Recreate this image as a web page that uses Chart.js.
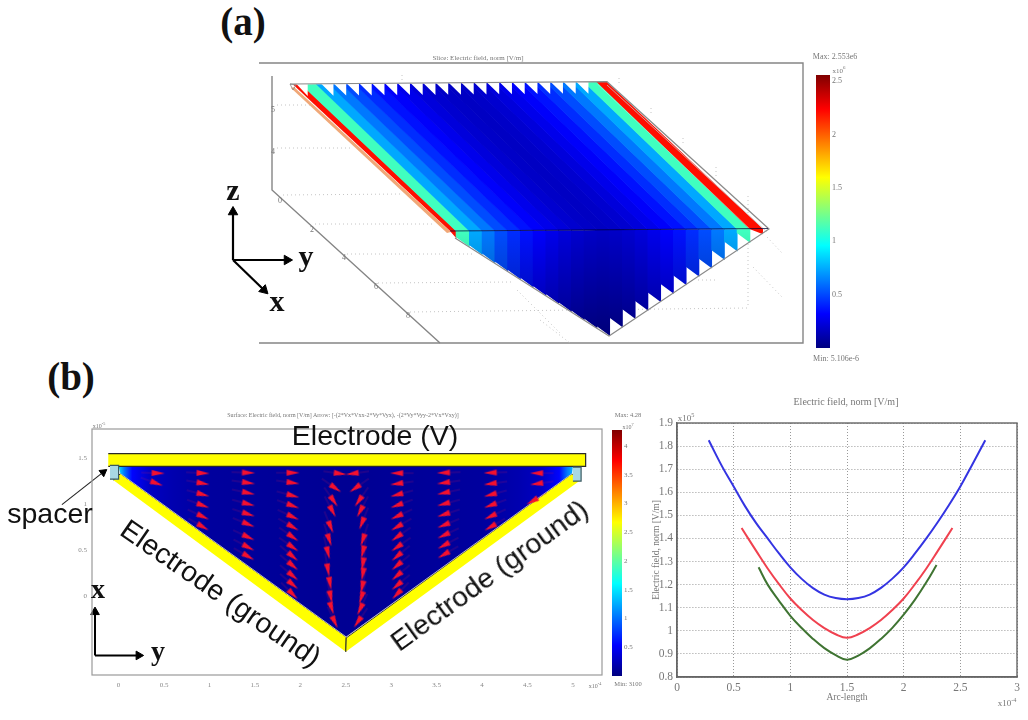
<!DOCTYPE html>
<html>
<head>
<meta charset="utf-8">
<script src="https://cdn.jsdelivr.net/npm/chart.js@4"></script>
<style>
html,body{margin:0;padding:0;background:#fff;}
#stage{position:relative;width:1028px;height:720px;overflow:hidden;background:#fff;filter:blur(0.5px);}
canvas{position:absolute;}
.t{position:absolute;white-space:nowrap;line-height:1;transform:translate(-50%,-50%);}
.sm{font-family:"Liberation Serif",serif;color:#777;}
.big{font-family:"Liberation Serif",serif;font-weight:bold;color:#111;}
.el{font-family:"Liberation Sans",sans-serif;color:#111;font-size:28.5px;}
sup{font-size:70%;line-height:0;}
</style>
</head>
<body>
<div id="stage"></div>
<script>
/* ---------- panel (b), right: line profiles ---------- */
const arcTicks = [0, 0.5, 1, 1.5, 2, 2.5, 3];
const fieldTicks = [0.8, 0.9, 1, 1.1, 1.2, 1.3, 1.4, 1.5, 1.6, 1.7, 1.8, 1.9];
const blueArc = [0.28,0.4,0.5,0.6,0.7,0.8,0.9,1,1.1,1.2,1.3,1.4,1.5,1.6,1.7,1.8,1.9,2,2.1,2.2,2.3,2.4,2.5,2.6,2.72];
const blueField = [1.825,1.71,1.625,1.54,1.465,1.4,1.335,1.275,1.225,1.185,1.157,1.142,1.137,1.142,1.157,1.186,1.226,1.275,1.335,1.4,1.47,1.545,1.625,1.715,1.825];
const redArc = [0.57,0.7,0.8,0.9,1,1.1,1.2,1.3,1.4,1.5,1.6,1.7,1.8,1.9,2,2.1,2.2,2.3,2.43];
const redField = [1.445,1.345,1.27,1.202,1.14,1.09,1.047,1.012,0.985,0.97,0.985,1.012,1.047,1.09,1.14,1.202,1.27,1.345,1.445];
const greenArc = [0.72,0.8,0.9,1,1.1,1.2,1.3,1.4,1.5,1.6,1.7,1.8,1.9,2,2.1,2.2,2.29];
const greenField = [1.275,1.2,1.13,1.065,1.012,0.965,0.925,0.895,0.875,0.893,0.924,0.965,1.013,1.07,1.135,1.21,1.285];

/* ---------- panel (a): field norm (x10^6 V/m) of each slice band, left to right ---------- */
const sliceNorm = [2.2,1.117,0.74,0.62,0.51,0.43,0.36,0.31,0.27,0.23,0.2,0.18,0.17,0.18,0.2,0.23,0.27,0.31,0.36,0.43,0.51,0.62,0.74,1.117,2.2];
const sliceBarTicks = [0.5, 1, 1.5, 2, 2.5];
const surfBarTicks = [0.5, 1, 1.5, 2, 2.5, 3, 3.5, 4];

/* ---------- panel (b), left: surface + arrows, axes in 1e-4 / 1e-5 units ---------- */
const surfYTicks = [0, 0.5, 1, 1.5, 2, 2.5, 3, 3.5, 4, 4.5, 5];
const surfXTicks = [0, 0.5, 1, 1.5];
const fieldStopY = [0, 0.06, 0.15, 0.35, 0.6, 1, 2.5, 4, 4.4, 4.65, 4.85, 4.94, 5.05];
const fieldStopNorm = [1.5, 1.05, 0.55, 0.28, 0.2, 0.13, 0.08, 0.13, 0.2, 0.28, 0.55, 1.05, 1.5];
const arrowY = [0.436,0.42,
 0.93,0.93,0.93,0.93,0.93,0.93,
 1.43,1.43,1.43,1.43,1.43,1.43,1.43,1.43,1.43,
 1.92,1.92,1.92,1.92,1.92,1.92,1.92,1.92,1.92,1.92,1.92,1.92,1.92,
 2.44,2.39,2.37,2.356,2.335,2.32,2.305,2.305,2.327,2.335,2.345,2.38,
 2.57,2.6,2.64,2.657,2.676,2.687,2.687,2.687,2.687,2.68,2.67,2.657,2.63,
 3.06,3.06,3.06,3.06,3.06,3.06,3.06,3.06,3.06,3.06,3.06,3.06,3.06,
 3.575,3.575,3.575,3.575,3.575,3.575,3.575,3.575,3.575,
 4.09,4.09,4.09,4.09,4.09,4.09,
 4.6,4.6,4.55];
const arrowX = [1.335,1.224,
 1.335,1.224,1.103,0.984,0.863,0.752,
 1.34,1.23,1.12,1.0,0.89,0.78,0.64,0.53,0.43,
 1.34,1.23,1.09,0.98,0.86,0.75,0.64,0.53,0.43,0.33,0.22,0.125,0.02,
 1.33,1.17,1.03,0.92,0.75,0.61,0.47,0.285,0.14,-0.007,-0.13,-0.28,
 1.33,1.17,1.03,0.92,0.79,0.61,0.48,0.35,0.24,0.1,-0.015,-0.14,-0.28,
 1.335,1.22,1.10,0.985,0.865,0.75,0.64,0.53,0.43,0.33,0.22,0.115,0.02,
 1.34,1.23,1.12,1.0,0.885,0.77,0.66,0.55,0.45,
 1.34,1.22,1.10,0.985,0.865,0.75,
 1.335,1.22,1.03];
const arrowAngle = [2,20,
 3,10,15,20,25,30,
 2,8,12,15,18,22,25,28,30,
 0,8,15,20,25,30,35,35,40,40,40,40,45,
 8,35,55,62,68,72,76,80,80,78,72,65,
 172,145,125,118,112,108,104,100,100,102,108,115,125,
 180,172,165,160,155,150,145,145,140,140,140,140,135,
 178,172,168,165,162,158,155,152,150,
 178,172,165,160,155,150,
 180,172,150];

/* ---------- helpers ---------- */
Chart.defaults.animation = false;
Chart.defaults.responsive = false;
Chart.defaults.maintainAspectRatio = false;
Chart.defaults.plugins.legend.display = false;
Chart.defaults.plugins.tooltip.enabled = false;
Chart.defaults.layout.autoPadding = false;

const stage = document.getElementById('stage');
function pane(left, top, w, h) {
  const c = document.createElement('canvas');
  c.width = w; c.height = h;
  c.style.cssText = 'left:' + left + 'px;top:' + top + 'px;width:' + w + 'px;height:' + h + 'px;';
  stage.appendChild(c);
  return c;
}
function label(html, x, y, size, cls, rot) {
  const d = document.createElement('div');
  d.className = 't ' + cls;
  d.innerHTML = html;
  d.style.left = x + 'px';
  d.style.top = y + 'px';
  if (size) d.style.fontSize = size + 'px';
  if (rot) d.style.transform = 'translate(-50%,-50%) rotate(' + rot + 'deg)';
  stage.appendChild(d);
}
function jetRGB(t) {
  t = Math.max(0, Math.min(1, t));
  const f = (a) => Math.max(0, Math.min(1, 1.5 - Math.abs(4 * t - a)));
  return [f(3), f(2), f(1)].map(v => Math.round(v * 255));
}
const css = (c) => 'rgb(' + c.join(',') + ')';
const jet = (t) => css(jetRGB(t));
function poly(points, color, extra) {
  return Object.assign({
    data: points.map(p => ({x: p[0], y: p[1]})),
    showLine: true, fill: 'shape', backgroundColor: color, borderColor: color,
    borderWidth: 0, pointRadius: 0, tension: 0
  }, extra || {});
}
function stroke(points, color, width, dash, extra) {
  return Object.assign({
    data: points.map(p => ({x: p[0], y: p[1]})),
    showLine: true, fill: false, borderColor: color, borderWidth: width,
    borderDash: dash || [], pointRadius: 0, tension: 0
  }, extra || {});
}
function head(p, angle, color, r) {
  return {data: [{x: p[0], y: p[1]}], showLine: false, pointStyle: 'triangle', pointRadius: r,
    pointRotation: angle, pointBackgroundColor: color, pointBorderColor: color, clip: false};
}
const framePlugin = (color, width) => ({
  id: 'frame',
  afterDraw(chart) {
    const a = chart.chartArea, c = chart.ctx;
    c.save(); c.strokeStyle = color; c.lineWidth = width;
    c.strokeRect(a.left, a.top, a.right - a.left, a.bottom - a.top);
    c.restore();
  }
});
/* painter's order: last in the list ends up on top */
const painter = (list) => list.slice().reverse();

/* ---------- panel (a) ---------- */
(function () {
  const L = 225, T = 50, W = 590, H = 320;
  const ds = [];
  const GREY = '#858585', DOT = '#c4c4c4';
  const edges = [450, 455.7];
  for (let j = 0; j <= 22; j++) edges.push(469 + 12.75 * j);
  edges.push(763);
  const topEdges = edges.map(e => e - 153);
  topEdges[0] = 293; topEdges[1] = 301; topEdges[2] = 316; topEdges[topEdges.length - 1] = 607;
  const topY = (x) => 84.5 - (x - 295) * 0.008;
  const midY = (x) => 231 - (x - 450) * 0.0065;
  const rim = (x) => x < 609.25 ? 238 + 0.638 * (x - 455) : 336 - 0.6625 * (x - 609.25);

  /* box */
  ds.push(stroke([[259,63],[803,63],[803,343],[259,343]], GREY, 1.4));
  ds.push(stroke([[272,76],[272,190],[440,343]], GREY, 1.4));
  [[[277,105],[312,105]],[[277,148],[352,148]],[[283,195],[402,194]],[[315,224],[435,224]],
   [[347,254],[472,254]],[[378,283],[513,282]],[[410,312],[748,308]],[[748,196],[748,308]],
   [[698,280],[717,280]],[[402,75],[402,84]],[[619,78],[619,86]],[[651,108],[651,116]],
   [[683,138],[683,146]],[[716,167],[716,176]],[[767,237],[782,253]],[[753,267],[782,297]],
   [[517,290],[560,333]],[[540,320],[570,343]]
  ].forEach(s => ds.push(stroke(s, DOT, 1, [1, 3])));

  /* bands above and below the fold; each slightly overlaps the next to avoid seams */
  sliceNorm.forEach((v, i) => {
    const a = edges[i], b = edges[i + 1], c = jetRGB(v / 2.553), o = i < sliceNorm.length - 1 ? 0.8 : 0;
    const ta = topEdges[i], tb = topEdges[i + 1];
    ds.push(poly([[ta, topY(ta)], [tb + o, topY(tb)], [b + o, midY(b)], [a, midY(a)]], css(c)));
    const tooth = Math.max(rim(b) - 10, midY(a));
    ds.push(poly([[a, midY(a)], [b + o, midY(b)], [b + o, rim(b)], [a, tooth]], css(c), {
      backgroundColor(ctx) {
        const s = ctx.chart.scales.y;
        const y0 = s ? s.getPixelForValue(231) : NaN, y1 = s ? s.getPixelForValue(336) : NaN;
        if (!Number.isFinite(y0) || !Number.isFinite(y1)) return css(c);
        const g = ctx.chart.ctx.createLinearGradient(0, y0, 0, y1);
        g.addColorStop(0, css(c));
        g.addColorStop(1, css(c.map(n => Math.round(n * 0.62))));
        return g;
      }
    }));
  });
  ds.push(poly([[291,88],[294,87],[451,232],[447,233]], '#f0a878'));

  /* white teeth on the top edge */
  const toothStart = [296, 320.7];
  for (let j = 1; j <= 20; j++) toothStart.push(320.7 + 12.75 * j);
  toothStart.forEach((x, i) => {
    const e = i === 0 ? 307.7 : x + 12.75;
    ds.push(poly([[x, topY(x) - 1], [e, topY(e) - 1], [e, topY(e) + 11.5]], '#fff'));
  });
  ds.push(stroke([[597.5,84],[750,229]], 'rgba(255,255,255,0.4)', 0.8));

  /* outlines */
  ds.push(stroke([[290,84],[607,81.7],[769,229],[609,336],[455,238]], '#8a8a8a', 1.2));
  ds.push(stroke([[607,85],[767,232]], '#c4c4c4', 0.8));
  ds.push(stroke([[290,84],[296,85],[293,90],[290,84]], '#888', 0.8));
  ds.push(stroke([[450,231],[768,228.5]], 'rgba(0,0,50,0.75)', 1));

  /* coordinate arrows */
  ds.push(stroke([[233,260],[233,212]], '#000', 2.2));
  ds.push(head([233,212], 0, '#000', 5.5));
  ds.push(stroke([[233,260],[287,260]], '#000', 2.2));
  ds.push(head([287,260], 90, '#000', 5.5));
  ds.push(stroke([[233,260],[264,290]], '#000', 2.2));
  ds.push(head([264,290], 134, '#000', 5.5));

  new Chart(pane(L, T, W, H), {
    type: 'scatter',
    data: {datasets: painter(ds)},
    options: {
      layout: {padding: 0},
      scales: {
        x: {type: 'linear', display: false, min: L, max: L + W},
        y: {type: 'linear', display: false, min: T, max: T + H, reverse: true}
      }
    }
  });
})();

/* ---------- colour bars (floating bar over the real value axis) ---------- */
function colorbar(left, top, w, h, pad, max, ticks, size) {
  new Chart(pane(left, top, w, h), {
    type: 'bar',
    data: {labels: [''], datasets: [{
      data: [[0, max]],
      barPercentage: 1, categoryPercentage: 1,
      backgroundColor(ctx) {
        const a = ctx.chart.chartArea;
        if (!a || !Number.isFinite(a.top) || !Number.isFinite(a.bottom)) return '#00f';
        const g = ctx.chart.ctx.createLinearGradient(0, a.bottom, 0, a.top);
        for (let i = 0; i <= 40; i++) g.addColorStop(i / 40, jet(i / 40));
        return g;
      }
    }]},
    options: {
      layout: {padding: pad},
      scales: {
        x: {display: false},
        y: {
          position: 'right', min: 0, max: max,
          border: {display: false},
          grid: {display: false, drawTicks: false},
          afterBuildTicks(s) { s.ticks = ticks.map(v => ({value: v})); },
          afterFit(s) { s.width = pad.axis; },
          ticks: {color: '#777', padding: 2, font: {family: 'Liberation Serif', size: size},
            callback: (v) => String(v)}
        }
      }
    }
  });
}
colorbar(800, 60, 60, 300, {left: 16, top: 15, bottom: 12, right: 0, axis: 30}, 2.56, sliceBarTicks, 8);
colorbar(605, 420, 40, 265, {left: 7, top: 10, bottom: 9, right: 0, axis: 23}, 4.28, surfBarTicks, 7);

/* ---------- panel (b), left ---------- */
(function () {
  const ds = [];
  const YEL = '#ffff00', EDGE = '#2a2a2a';
  const tipImg = document.createElement('canvas');
  tipImg.width = 46; tipImg.height = 10;
  const g = tipImg.getContext('2d');
  g.strokeStyle = 'rgba(215,25,80,0.28)'; g.lineWidth = 1;
  g.beginPath(); g.moveTo(6, 5); g.lineTo(17, 5); g.stroke();
  g.fillStyle = '#f4102e';
  g.beginPath(); g.moveTo(16.5, 2); g.lineTo(29.5, 5); g.lineTo(16.5, 8); g.closePath(); g.fill();

  ds.push(poly([[-0.06,1.26],[0.02,1.33],[2.505,-0.44],[2.5,-0.6]], YEL, {borderColor: EDGE, borderWidth: 1}));
  ds.push(poly([[5.07,1.25],[4.99,1.33],[2.505,-0.45],[2.5,-0.6]], YEL, {borderColor: EDGE, borderWidth: 1}));
  ds.push(poly([[0.0,1.41],[5.0,1.41],[4.99,1.33],[2.505,-0.44],[0.02,1.33]], '#000098', {
    backgroundColor(ctx) {
      const s = ctx.chart.scales.x, c = ctx.chart.ctx;
      const x0 = s ? s.getPixelForValue(0) : NaN, x1 = s ? s.getPixelForValue(5.05) : NaN;
      if (!Number.isFinite(x0) || !Number.isFinite(x1)) return '#000098';
      const gr = c.createLinearGradient(x0, 0, x1, 0);
      fieldStopY.forEach((y, i) => gr.addColorStop(y / 5.05, jet(fieldStopNorm[i] / 4.28)));
      return gr;
    }
  }));
  ds.push(stroke([[0.02,1.33],[2.505,-0.44],[4.99,1.33]], '#b8b8b8', 1));
  ds.push({
    data: arrowY.map((y, i) => ({x: y, y: arrowX[i]})),
    showLine: false, pointStyle: tipImg, pointRadius: 6, pointRotation: arrowAngle
  });
  ds.push(poly([[-0.114,1.547],[5.14,1.547],[5.14,1.408],[-0.114,1.408]], YEL, {borderColor: EDGE, borderWidth: 1.2}));
  ds.push(poly([[-0.095,1.42],[0.0,1.42],[0.0,1.27],[-0.095,1.27]], '#a8d8e4', {borderColor: '#3a5a60', borderWidth: 1.2}));
  ds.push(poly([[5.0,1.40],[5.09,1.40],[5.09,1.25],[5.0,1.25]], '#a8d8e4', {borderColor: '#3a5a60', borderWidth: 1.2}));

  /* coordinate + spacer arrows */
  ds.push(stroke([[-0.26,-0.64],[-0.26,-0.17]], '#000', 2, [], {clip: false}));
  ds.push(head([-0.26,-0.17], 0, '#000', 5));
  ds.push(stroke([[-0.26,-0.64],[0.22,-0.64]], '#000', 2, [], {clip: false}));
  ds.push(head([0.22,-0.64], 90, '#000', 5));
  ds.push(stroke([[-0.624,0.995],[-0.19,1.33]], '#222', 1.1, [], {clip: false}));
  ds.push(head([-0.17,1.345], 53, '#000', 4.5));

  const tickFont = {family: 'Liberation Serif', size: 7};
  new Chart(pane(60, 405, 560, 295), {
    type: 'scatter',
    data: {datasets: painter(ds)},
    options: {
      layout: {padding: {top: 24, right: 18, left: 0, bottom: 0}},
      scales: {
        x: {
          type: 'linear', min: -0.293, max: 5.32,
          grid: {display: false, drawTicks: false}, border: {display: false},
          afterBuildTicks(s) { s.ticks = surfYTicks.map(v => ({value: v})); },
          afterFit(s) { s.height = 25; },
          ticks: {color: '#888', padding: 6, maxRotation: 0, autoSkip: false, font: tickFont, callback: v => String(v)}
        },
        y: {
          type: 'linear', min: -0.852, max: 1.814,
          grid: {display: false, drawTicks: false}, border: {display: false},
          afterBuildTicks(s) { s.ticks = surfXTicks.map(v => ({value: v})); },
          afterFit(s) { s.width = 32; },
          ticks: {color: '#888', padding: 5, font: tickFont, callback: v => String(v)}
        }
      }
    },
    plugins: [framePlugin('#9a9a9a', 1.2)]
  });
})();

/* ---------- panel (b), right ---------- */
(function () {
  const series = (xs, ys, color) => ({
    data: xs.map((x, i) => ({x: x, y: ys[i]})), showLine: true, fill: false,
    borderColor: color, borderWidth: 2, pointRadius: 0, tension: 0.4
  });
  const font = {family: 'Liberation Serif', size: 11.5};
  const axisTitle = (text) => ({display: true, text: text, color: '#777',
    font: {family: 'Liberation Serif', size: 9.5}, padding: {top: 2, bottom: 2}});
  new Chart(pane(640, 390, 388, 330), {
    type: 'scatter',
    data: {datasets: [
      series(blueArc, blueField, '#3434e2'),
      series(redArc, redField, '#f0414f'),
      series(greenArc, greenField, '#3f7432')
    ]},
    options: {
      layout: {padding: {right: 11, left: 9, top: 33, bottom: 15}},
      scales: {
        x: {
          type: 'linear', min: 0, max: 3,
          grid: {color: '#999', drawTicks: false}, border: {color: '#666', width: 1.4, dash: [1, 2]},
          afterBuildTicks(s) { s.ticks = arcTicks.map(v => ({value: v})); },
          afterFit(s) { s.height = 28; },
          title: axisTitle('Arc-length'),
          ticks: {color: '#777', padding: 4, font: font, callback: v => String(v)}
        },
        y: {
          type: 'linear', min: 0.8, max: 1.9,
          grid: {color: '#999', drawTicks: false}, border: {color: '#666', width: 1.4, dash: [1, 2]},
          afterBuildTicks(s) { s.ticks = fieldTicks.map(v => ({value: v})); },
          afterFit(s) { s.width = 28; },
          title: axisTitle('Electric field, norm [V/m]'),
          ticks: {color: '#777', padding: 4, font: font, callback: v => String(v)}
        }
      }
    },
    plugins: [framePlugin('#666', 1.4)]
  });
})();

/* ---------- real text annotations ---------- */
label('(a)', 243, 21, 39, 'big');
label('(b)', 71, 376, 39, 'big');
label('z', 233, 190, 30, 'big');
label('y', 306, 256, 30, 'big');
label('x', 277, 301, 30, 'big');
label('x', 98, 589, 28, 'big');
label('y', 158, 651, 28, 'big');
label('Slice: Electric field, norm [V/m]', 478, 58, 7, 'sm');
label('Max: 2.553e6', 835, 57, 8, 'sm');
label('Min: 5.106e-6', 836, 359, 8, 'sm');
label('x10<sup>6</sup>', 839, 71, 7, 'sm');
[['5',273,110],['4',273,152],['0',280,201],['2',312,230],['4',344,258],['6',376,287],['8',408,316]]
  .forEach(a => label(a[0], a[1], a[2], 8, 'sm'));
label('Surface: Electric field, norm [V/m]  Arrow: [-(2*Vx*Vxx-2*Vy*Vyx), -(2*Vy*Vyy-2*Vx*Vxy)]', 343, 415, 6, 'sm');
label('x10<sup>-5</sup>', 99, 426, 6, 'sm');
label('x10<sup>-4</sup>', 595, 686, 6, 'sm');
label('Max: 4.28', 628, 415, 6.5, 'sm');
label('Min: 3100', 628, 684, 6.5, 'sm');
label('x10<sup>7</sup>', 628, 427, 6, 'sm');
label('Electric field, norm [V/m]', 846, 402, 10, 'sm');
label('Electrode (V)', 375, 435, 0, 'el');
label('spacer', 50, 513, 0, 'el');
label('Electrode (ground)', 221, 593, 0, 'el', 34.6);
label('Electrode (ground)', 489, 575, 0, 'el', -36);
label('x10<sup>5</sup>', 686, 418, 9, 'sm');
label('x10<sup>-4</sup>', 1007, 703, 9, 'sm');
</script>
</body>
</html>
